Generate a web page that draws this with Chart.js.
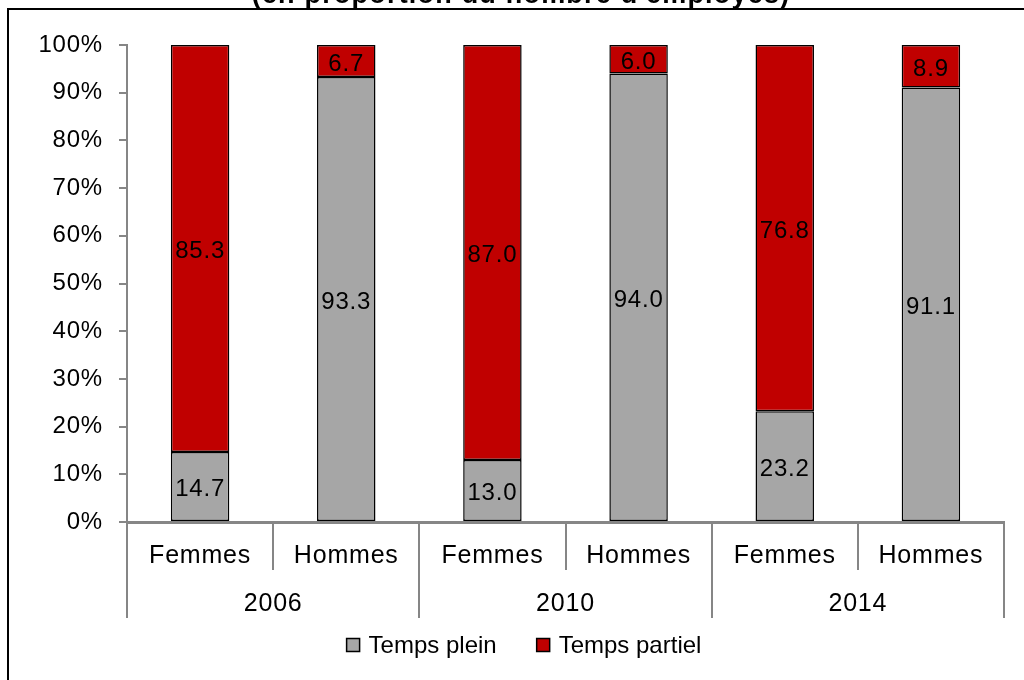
<!DOCTYPE html>
<html>
<head>
<meta charset="utf-8">
<script src="https://cdn.jsdelivr.net/npm/chart.js@4/dist/chart.umd.min.js"></script>
<style>
  html, body { margin: 0; padding: 0; background: #fff; }
  #wrap { width: 1024px; height: 680px; position: relative; }
</style>
</head>
<body>
<div id="wrap"><canvas id="chart"></canvas></div>
<script>
// --- données ---
const categories = ['Femmes', 'Hommes', 'Femmes', 'Hommes', 'Femmes', 'Hommes'];
const years = ['2006', '2010', '2014'];
const tempsPlein = [14.7, 93.3, 13.0, 94.0, 23.2, 91.1];
const tempsPartiel = [85.3, 6.7, 87.0, 6.0, 76.8, 8.9];
const seriesNames = ['Temps plein', 'Temps partiel'];
const titleText = "(en proportion du nombre d'employés)";

const FONT = 'Liberation Sans, Arial, sans-serif';
const AXIS_GRAY = '#868686';
Chart.defaults.font.family = FONT;
Chart.defaults.color = '#000';

// cadre + titre (coupé en haut)
const framePlugin = {
    id: 'frame',
    beforeDraw(chart) {
        const ctx = chart.ctx;
        ctx.save();
        ctx.fillStyle = '#fff';
        ctx.fillRect(0, 0, chart.width, chart.height);
        ctx.strokeStyle = '#000';
        ctx.lineWidth = 2;
        ctx.strokeRect(8, 9, 1040, 700);
        ctx.fillStyle = '#000';
        ctx.font = 'bold 27px ' + FONT;
        ctx.letterSpacing = '1.2px';
        ctx.textAlign = 'center';
        ctx.textBaseline = 'alphabetic';
        ctx.fillText(titleText, 521, 3);
        ctx.restore();
        // texte un peu plus large, comme dans l'original
        ctx.letterSpacing = '0.8px';
    }
};

// étiquettes de valeurs au centre des segments
const valueLabels = {
    id: 'valueLabels',
    afterDatasetsDraw(chart) {
        const ctx = chart.ctx;
        ctx.save();
        ctx.font = '24px ' + FONT;
        ctx.fillStyle = '#000';
        ctx.textAlign = 'center';
        ctx.textBaseline = 'middle';
        chart.data.datasets.forEach((ds, di) => {
            chart.getDatasetMeta(di).data.forEach((bar, i) => {
                const y = (bar.y + bar.base) / 2;
                ctx.fillText(ds.data[i].toFixed(1), bar.x, y + 3);
            });
        });
        ctx.restore();
    }
};

// axe des catégories à deux niveaux + légende
const multiAxis = {
    id: 'multiAxis',
    afterDraw(chart) {
        const ctx = chart.ctx;
        const x = chart.scales.x;
        const area = chart.chartArea;
        const half = (x.getPixelForValue(1) - x.getPixelForValue(0)) / 2;
        const y0 = area.bottom;
        ctx.save();
        ctx.strokeStyle = AXIS_GRAY;
        ctx.lineWidth = 2;
        // séparateurs
        for (let i = 0; i <= categories.length; i++) {
            const px = Math.round(x.getPixelForValue(i) - half);
            const len = (i % 2 === 0) ? 96 : 48;
            ctx.beginPath();
            ctx.moveTo(px, y0);
            ctx.lineTo(px, y0 + len);
            ctx.stroke();
        }
        ctx.fillStyle = '#000';
        ctx.font = '25px ' + FONT;
        ctx.textAlign = 'center';
        ctx.textBaseline = 'middle';
        categories.forEach((c, i) => {
            ctx.fillText(c, x.getPixelForValue(i), y0 + 34);
        });
        years.forEach((yr, g) => {
            const cx = (x.getPixelForValue(g * 2) + x.getPixelForValue(g * 2 + 1)) / 2;
            ctx.fillText(yr, cx, y0 + 82);
        });

        // légende
        ctx.font = '24px ' + FONT;
        ctx.letterSpacing = '0px';
        const ly = 645;
        const items = chart.data.datasets.map(ds => ({
            text: ds.label, fill: ds.backgroundColor
        }));
        const box = 13, gapBox = 9, gapItem = 40;
        let total = 0;
        items.forEach((it, k) => {
            it.w = ctx.measureText(it.text).width;
            total += box + gapBox + it.w + (k ? gapItem : 0);
        });
        let lx = 524 - total / 2;
        ctx.textAlign = 'left';
        items.forEach((it) => {
            ctx.fillStyle = it.fill;
            ctx.fillRect(lx, ly - box / 2, box, box);
            ctx.strokeStyle = '#000';
            ctx.lineWidth = 1.5;
            ctx.strokeRect(lx, ly - box / 2, box, box);
            ctx.fillStyle = '#000';
            ctx.fillText(it.text, lx + box + gapBox, ly + 1);
            lx += box + gapBox + it.w + gapItem;
        });
        ctx.restore();
    }
};

new Chart(document.getElementById('chart'), {
    type: 'bar',
    data: {
        labels: categories,
        datasets: [
            {
                label: seriesNames[0],
                data: tempsPlein,
                backgroundColor: '#A6A6A6',
                borderColor: '#000',
                borderWidth: 1.5,
                borderSkipped: false
            },
            {
                label: seriesNames[1],
                data: tempsPartiel,
                backgroundColor: '#C00000',
                borderColor: '#000',
                borderWidth: 1.5,
                borderSkipped: false
            }
        ]
    },
    options: {
        responsive: true,
        maintainAspectRatio: false,
        animation: false,
        layout: { padding: { top: 45, right: 20, bottom: 0, left: 0 } },
        categoryPercentage: 1,
        barPercentage: 0.4,
        scales: {
            x: {
                stacked: true,
                grid: { display: false },
                ticks: { display: false },
                border: { display: true, color: AXIS_GRAY, width: 3 },
                afterFit(scale) { scale.height = 158; }
            },
            y: {
                stacked: true,
                min: 0,
                max: 100,
                ticks: {
                    stepSize: 10,
                    padding: 16,
                    font: { size: 24 },
                    color: '#000',
                    callback: v => v + '%'
                },
                grid: {
                    drawOnChartArea: false,
                    drawTicks: true,
                    tickLength: 8,
                    color: AXIS_GRAY,
                    lineWidth: 2
                },
                border: { display: true, color: AXIS_GRAY, width: 2 },
                afterFit(scale) { scale.width = 127; }
            }
        },
        plugins: {
            legend: { display: false },
            tooltip: { enabled: false }
        }
    },
    plugins: [framePlugin, valueLabels, multiAxis]
});
</script>
</body>
</html>
